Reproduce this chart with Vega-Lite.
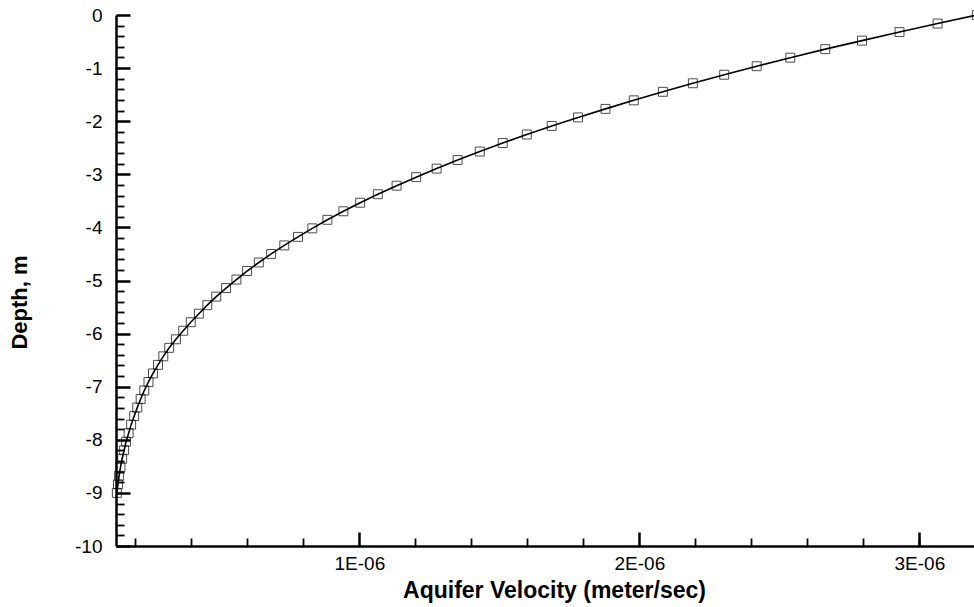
{
  "$schema": "https://vega.github.io/schema/vega-lite/v6.json",
  "width": 858,
  "height": 531,
  "autosize": {"type": "none"},
  "padding": {"left": 116, "top": 15, "right": 0, "bottom": 61},
  "background": "white",
  "config": {
    "view": {"stroke": null},
    "font": "Liberation Sans",
    "axis": {
      "domainColor": "black",
      "domainWidth": 2.5,
      "tickColor": "black",
      "labelColor": "black",
      "titleColor": "black",
      "grid": false,
      "labelFont": "Liberation Sans",
      "titleFont": "Liberation Sans"
    }
  },
  "data": {
    "values": [
      {"depth": 0, "velocity": 3.205e-6},
      {"depth": -0.1607, "velocity": 3.065e-6},
      {"depth": -0.3214, "velocity": 2.929e-6},
      {"depth": -0.4821, "velocity": 2.795e-6},
      {"depth": -0.6429, "velocity": 2.664e-6},
      {"depth": -0.8036, "velocity": 2.539e-6},
      {"depth": -0.9643, "velocity": 2.419e-6},
      {"depth": -1.125, "velocity": 2.303e-6},
      {"depth": -1.2857, "velocity": 2.191e-6},
      {"depth": -1.4464, "velocity": 2.084e-6},
      {"depth": -1.6071, "velocity": 1.980e-6},
      {"depth": -1.7679, "velocity": 1.879e-6},
      {"depth": -1.9286, "velocity": 1.781e-6},
      {"depth": -2.0893, "velocity": 1.687e-6},
      {"depth": -2.25, "velocity": 1.598e-6},
      {"depth": -2.4107, "velocity": 1.512e-6},
      {"depth": -2.5714, "velocity": 1.430e-6},
      {"depth": -2.7321, "velocity": 1.351e-6},
      {"depth": -2.8929, "velocity": 1.276e-6},
      {"depth": -3.0536, "velocity": 1.203e-6},
      {"depth": -3.2143, "velocity": 1.133e-6},
      {"depth": -3.375, "velocity": 1.066e-6},
      {"depth": -3.5357, "velocity": 1.003e-6},
      {"depth": -3.6964, "velocity": 0.943e-6},
      {"depth": -3.8571, "velocity": 0.886e-6},
      {"depth": -4.0179, "velocity": 0.832e-6},
      {"depth": -4.1786, "velocity": 0.781e-6},
      {"depth": -4.3393, "velocity": 0.732e-6},
      {"depth": -4.5, "velocity": 0.685e-6},
      {"depth": -4.6607, "velocity": 0.641e-6},
      {"depth": -4.8214, "velocity": 0.599e-6},
      {"depth": -4.9821, "velocity": 0.561e-6},
      {"depth": -5.1429, "velocity": 0.524e-6},
      {"depth": -5.3036, "velocity": 0.489e-6},
      {"depth": -5.4643, "velocity": 0.457e-6},
      {"depth": -5.625, "velocity": 0.427e-6},
      {"depth": -5.7857, "velocity": 0.398e-6},
      {"depth": -5.9464, "velocity": 0.371e-6},
      {"depth": -6.1071, "velocity": 0.345e-6},
      {"depth": -6.2679, "velocity": 0.321e-6},
      {"depth": -6.4286, "velocity": 0.300e-6},
      {"depth": -6.5893, "velocity": 0.281e-6},
      {"depth": -6.75, "velocity": 0.263e-6},
      {"depth": -6.9107, "velocity": 0.247e-6},
      {"depth": -7.0714, "velocity": 0.232e-6},
      {"depth": -7.2321, "velocity": 0.219e-6},
      {"depth": -7.3929, "velocity": 0.207e-6},
      {"depth": -7.5536, "velocity": 0.196e-6},
      {"depth": -7.7143, "velocity": 0.185e-6},
      {"depth": -7.875, "velocity": 0.176e-6},
      {"depth": -8.0357, "velocity": 0.167e-6},
      {"depth": -8.1964, "velocity": 0.160e-6},
      {"depth": -8.3571, "velocity": 0.153e-6},
      {"depth": -8.5179, "velocity": 0.147e-6},
      {"depth": -8.6786, "velocity": 0.142e-6},
      {"depth": -8.8393, "velocity": 0.138e-6},
      {"depth": -9, "velocity": 0.134e-6}
    ]
  },
  "resolve": {"axis": {"x": "independent", "y": "independent"}},
  "layer": [
    {
      "mark": {"type": "line", "color": "black", "strokeWidth": 1.6},
      "encoding": {
        "x": {
          "field": "velocity",
          "type": "quantitative",
          "scale": {"domain": [1.31e-7, 3.195e-6], "zero": false, "nice": false},
          "axis": {
            "orient": "bottom",
            "values": [1e-6, 2e-6, 3e-6],
            "labelExpr": "round(datum.value * 1e6) + 'E-06'",
            "tickSize": -14,
            "tickWidth": 2.5,
            "labelPadding": 22,
            "labelFontSize": 19,
            "labelBaseline": "top",
            "title": "Aquifer Velocity (meter/sec)",
            "titleFontSize": 23,
            "titleFontWeight": "bold",
            "titleAnchor": null,
            "titleAlign": "center",
            "titleBaseline": "alphabetic",
            "titleX": 438,
            "titleY": 51
          }
        },
        "y": {
          "field": "depth",
          "type": "quantitative",
          "scale": {"domain": [-10, 0], "nice": false},
          "axis": {
            "orient": "left",
            "values": [0, -1, -2, -3, -4, -5, -6, -7, -8, -9, -10],
            "labelExpr": "datum.value < 0 ? '-' + abs(datum.value) : '' + datum.value",
            "tickSize": -14,
            "tickWidth": 2.5,
            "labelPadding": 28,
            "labelFontSize": 19,
            "title": "Depth, m",
            "titleFontSize": 22,
            "titleFontWeight": "bold",
            "titleAnchor": null,
            "titleAngle": -90,
            "titleAlign": "center",
            "titleBaseline": "alphabetic",
            "titleX": -90,
            "titleY": 287
          }
        },
        "order": {"field": "depth", "type": "quantitative", "sort": "descending"}
      }
    },
    {
      "mark": {"type": "point", "shape": "square", "size": 80, "filled": false, "stroke": "black", "strokeWidth": 1},
      "encoding": {
        "x": {
          "field": "velocity",
          "type": "quantitative",
          "axis": {
            "orient": "bottom",
            "values": [2e-7, 4e-7, 6e-7, 8e-7, 1.2e-6, 1.4e-6, 1.6e-6, 1.8e-6, 2.2e-6, 2.4e-6, 2.6e-6, 2.8e-6, 3.0e-6],
            "labels": false,
            "domain": false,
            "tickSize": -8,
            "tickWidth": 1.8,
            "title": null
          }
        },
        "y": {
          "field": "depth",
          "type": "quantitative",
          "axis": {
            "orient": "left",
            "values": [-0.2, -0.4, -0.6, -0.8, -1.2, -1.4, -1.6, -1.8, -2.2, -2.4, -2.6, -2.8, -3.2, -3.4, -3.6, -3.8, -4.2, -4.4, -4.6, -4.8, -5.2, -5.4, -5.6, -5.8, -6.2, -6.4, -6.6, -6.8, -7.2, -7.4, -7.6, -7.8, -8.2, -8.4, -8.6, -8.8, -9.2, -9.4, -9.6, -9.8],
            "labels": false,
            "domain": false,
            "tickSize": -8,
            "tickWidth": 1.8,
            "title": null
          }
        }
      }
    }
  ]
}
